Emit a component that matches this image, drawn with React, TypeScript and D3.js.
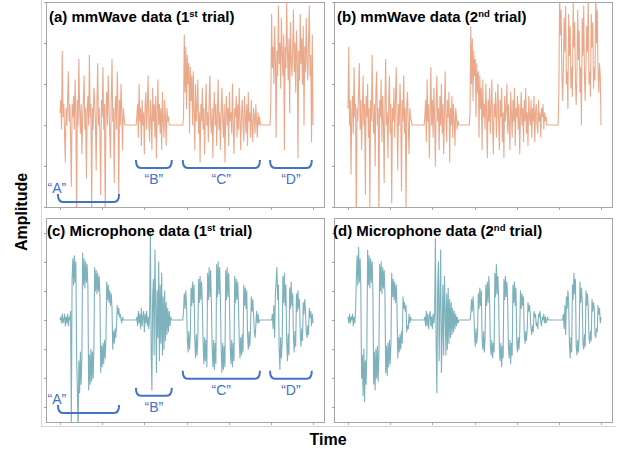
import React from "react";
import * as d3 from "d3";

// ---------------- data (amplitude samples, evenly spaced over the recording) ----------------
const mmWaveTrial1: number[] = [
  // "A"
  3, 6, -1, 18, 2, 5, -2, -9, 4, 0,
  6, 13, 1, 5, -3, -15, 5, 2, 7, -1,
  11, 3, -24, 6, 0, 16, 4, -2, 5, -7,
  2, 6, 12, -1, 4, -13, 3, 7, 0, 17,
  2, 5, -20, 4, -1, 9, 6, 1, -11, 5,
  15, 0, 4, -3, -17, 6, 2, 14, -1, 5,
  -22, 3, 8, 0, 12, 5, -2, -8, 6, 16,
  1, 4, -14, 3, 7, -1, 13, 4, -18, 6,
  0, 10, 3, -6, 4, 2,
  0, 0, 0, 0, 0, 0, 0, 0, 0, 0, 0, 0, 0, 0, 0, 0,
  // "B"
  2, 5, -3, 10, 1, 4, -5, 6, 0, 3,
  -7, 5, 8, -1, 4, 12, 0, -4, 6, 2,
  -6, 9, 1, 5, -3, 7, -8, 3, 11, 0,
  5, -2, 4, -6, 8, 1, -3, 6, 2, -5,
  4, 1, 2, 0,
  0, 0, 0, 0, 0, 0, 0, 0, 0, 0, 0, 0, 0, 0, 0, 0, 0, 0,
  // "C"
  2, 22, 8, 19, 4, 17, 10, 15, -2, 14,
  6, 12, 0, 13, 3, -6, 10, 1, 4, 11,
  -2, 3, -9, 5, 1, 9, -1, 4, -7, 2,
  10, 0, 3, -4, 6, 12, 1, -2, 4, -8,
  3, 8, 0, 5, -5, 2, 11, -1, 3, -6,
  4, 9, 1, -3, 5, -9, 2, 7, 0, 4,
  -5, 8, 1, 3, -2, 10, 0, -7, 4, 2,
  7, -3, 5, -1, 9, 1, -6, 3, 6, 0,
  -4, 7, 2, -2, 5, -5, 8, 1, 3, -3,
  6, 0, -4, 4, 2, -2, 5, 1, -3, 3,
  0, 2,
  0, 0, 0, 0, 0, 0, 0, 0, 0, 0, 0, 0, 0, 0,
  // "D"
  6, 27, 14, 19, 10, 24, 16, -3, 18, 12,
  29, 15, 20, 9, 26, 17, 12, 22, -6, 19,
  14, 30, 18, 11, 21, 3, 25, 16, 12, 19,
  28, 13, 20, 8, 23, 17, -8, 18, 11, 27,
  15, 21, 10, 24, 0, 19, 13, 26, 16, 11,
  20, 29, 12, 17, -4, 22, 0,
];

const mmWaveTrial2: number[] = [
  4, 19, 0, 6, -12, 3, 7, -2, 14, 2,
  5, -24, 4, 1, 8, 15, -1, 6, -6, 3,
  12, 0, 5, -17, 7, 2, 10, -3, 4, -20,
  6, 1, 17, 3, -2, 5, -10, 8, 13, 0,
  4, -22, 6, 2, 11, -4, 7, 1, -14, 5,
  16, 0, 3, -8, 6, 12, -2, 5, -19, 4,
  1, 9, -3, 6, 14, 2, -11, 5, 0, 10,
  3, -16, 6, 1, 12, -2, 4, -21, 5, 8,
  0, -7, 4, 2, 1, 0,
  0, 0, 0, 0, 0, 0, 0, 0, 0, 0, 0, 0, 0, 0, 0, 0,
  2, 6, -4, 11, 1, 5, -8, 3, 14, 0,
  6, -3, 9, 2, -10, 5, 12, 1, 4, -6,
  7, 0, 10, -2, 5, -7, 3, 13, 1, -4,
  6, 2, 8, -9, 4, 0, 7, -3, 5, 1,
  -5, 4, 2, -1, 1, 0,
  0, 0, 0, 0, 0, 0, 0, 0, 0, 0, 0, 0, 0, 0,
  3, 24, 10, 21, 6, 18, 12, 16, 2, 15,
  8, 13, -3, 12, 4, 9, -6, 11, 2, 5,
  -1, 10, 3, -8, 6, 1, 9, -2, 4, 11,
  0, -7, 5, 2, 8, -3, 4, 10, 1, -6,
  6, 2, 9, -4, 3, -8, 7, 1, 4, 10,
  -2, 5, 0, -6, 8, 3, -3, 6, 1, 9,
  -5, 4, 2, 7, -1, 5, -7, 3, 8, 0,
  4, -4, 6, 1, 9, -2, 3, -5, 7, 2,
  0, 6, -3, 4, 1, 7, -4, 3, 5, 0,
  -2, 6, 1, 3, -3, 4, 2, 5, -1, 3,
  1, 2, 0, 0,
  0, 0, 0, 0, 0, 0, 0, 0, 0, 0, 0, 0, 0, 0,
  8, 32, 22, 28,
  12, 6, 14, 26, 18, 29, 10, 13, 4, 27, 17, 24, 9, 14, 7, 30, 19, 25,
  11, 5, 13, 28, 16, 23, 8, 14, 0, 26, 17, 29, 12, 6, 15, 24, 18, 31,
  10, 13, 7, 27, 19, 25, 9, 14, 11, 33, 20, 28, 13, 8, 15, 12, 0,
];

const micTrial1: number[] = [
  0, 1, -1, 2, -1, 0, 2, -2, 1, -1, 2, -2, 1, 0,
  // "A"
  3, -36, 14, 21, 12, 22, 13, 20,
  -12, -24, -38, -14, -25, -11, -22, -13,
  23, 12, 21, 11, 20, 13, 19, 11,
  -24, -12, -22, -10, -21, -11, -20, -9,
  18, 10, 17, 9, 16, 10, 15, 8,
  -18, -9, -16, -8, -15, -7, -13, -6,
  13, 7, 12, 6, 10, 5, 9, 4,
  -10, -4, -8, -3, -6, -2,
  5, 2, 4, 1, 2, 0, -1, 1,
  0, 0, 0, 0, 0, 0, 0, 0, 0, 0, 0, 0, 0, 0, 0, 0, 0, 0,
  // "B"
  1, -2, 3, -1, 2, -3, 4, -2, 1, 3, -4, 2, -1, 3, -2, 1, -3, 2,
  30, -10, -24, 8, 14, -12, 24, 6, -18, 10,
  -6, 20, -14, 12, -8, 16, -12, 8, -10, 10,
  -7, 6, -5, 4, -4, 3, -2, 1,
  0, 0, 0, 0, 0, 0, 0, 0, 0, 0, 0, 0, 0, 0, 0, 0,
  // "C"
  3, 9, 4, 10, 5,
  -6, -11, -4, -10, -5,
  11, 5, 13, 6, 12,
  -7, -13, -5, -12, -6,
  14, 6, 15, 7, 13, 5,
  -8, -15, -6, -14, -7, -16,
  16, 7, 18, 8, 17, 6,
  -9, -16, -7, -17, -8, -15,
  19, 8, 20, 9, 18, 7,
  -10, -18, -8, -17, -9, -16,
  17, 7, 18, 8, 16, 6,
  -9, -15, -7, -16, -8, -14,
  15, 6, 14, 7, 13, 5,
  -7, -13, -6, -12, -5, -11,
  12, 5, 11, 4, 10,
  -5, -10, -4, -9, -3,
  8, 3, 7, 2,
  -4, -6, -2, 3, -1, 2, -1, 0,
  0, 0, 0, 0, 0, 0, 0, 0, 0, 0, 0, 0, 0, 0, 0, 0,
  // "D"
  2, -3, 5, -6,
  9, 13, 18, 7, 12,
  -10, -17, -6, -13, -8,
  15, 6, 16, 5, 12,
  -7, -14, -5, -12,
  11, 4, 13, 5, 9,
  -6, -11, -4, -9,
  9, 3, 10, 4, 7,
  -5, -9, -3, -7,
  6, 2, 7, 3,
  -4, -6, -2, -5,
  4, 1, 3, -2, 2, -1,
];

const micTrial2: number[] = [
  1, -1, 2, -1, 1, 0, 2, -2, 1, -1,
  // "A"
  3, 14, 22, 12, 25, 13, 21, 11,
  -20, -12, -26, -10, -28, -14, -22, -11,
  24, 12, 22, 11, 21, 13, 20, 10,
  -22, -11, -24, -10, -20, -9, -21, -12,
  19, 10, 20, 9, 18, 11, 17, 9,
  -18, -9, -19, -8, -16, -7, -15, -8,
  16, 8, 14, 7, 13, 6, 12, 5,
  -13, -6, -11, -5, -10, -4, -8,
  8, 4, 6, 3, 5,
  -4, -2, -3, 2, -1, 1,
  0, 0, 0, 0, 0, 0, 0, 0, 0, 0, 0, 0, 0, 0, 0, 0, 0, 0,
  // "B"
  1, -2, 3, -2, 2, -3, 1, 3, -2, 1, -3, 2, -1, 2,
  28, -8, -25, 10, 20, -14, 6, 24, -18, -6,
  12, -12, 15, 4, -12, 9, -10, 11, -8, 7,
  -6, 6, -5, 4, -4, 3, -3, 2, -2, 1,
  -1, 0,
  0, 0, 0, 0, 0, 0, 0, 0, 0, 0, 0, 0, 0, 0, 0,
  // "C"
  2, 7, 3, 8, 4,
  -5, -9, -3, -8, -4,
  9, 4, 11, 5, 10,
  -6, -10, -4, -11, -6,
  12, 5, 13, 6, 15, 7,
  -9, -12, -7, -13, -8, -11,
  16, 8, 19, 9, 15, 7,
  -10, -14, -8, -16, -9, -13,
  14, 7, 15, 8, 13, 6,
  -9, -13, -7, -15, -8, -12,
  12, 6, 13, 5, 11,
  -7, -11, -6, -10, -5,
  10, 4, 9, 5, 8,
  -5, -8, -4, -7, -3,
  6, 3, 5, 2,
  -3, -5, -2, -4,
  3, 1, 2, -2, -1, -3, 2, 1, 3, -1, -2, 1, 0, 2, -1, 1, -1, 0, 1,
  0, 0, 0, 0, 0, 0, 0, 0, 0, 0, 0, 0, 0, 0, 0, 0, 0, 0, 0, 0,
  // "D"
  2, -3, 5, -5,
  8, 4, 10, 6,
  -8, -13, -6, -11,
  12, 7, 16, 9, 14,
  -9, -12, -7, -11, -6,
  13, 6, 11, 7,
  -8, -10, -5, -9,
  10, 5, 9, 4,
  -6, -8, -4, -7,
  7, 3, 6, 4,
  -5, -6, -3, -4,
  5, 2, 4, -1, 1,
];

const timeTicks = [0, 1, 2, 3, 4, 5, 6];
const recordingSpan = 6;
const mmWaveAmpTicks = [-20, -10, 0, 10, 20, 30];
const micAmpTicks = [-30, -20, -10, 0, 10, 20, 30];

const wordLabels = ["A", "B", "C", "D"];
const wordStart = [-0.05, 1.8, 2.91, 4.98];
const wordEnd = [1.4, 2.65, 4.74, 5.97];
const mmBracketLevel = [-18.8, -10.5, -10.5, -10.5];
const micBracketLevel = [-31.9, -26, -20.2, -20.2];

// ---------------- styles / layout ----------------
const ORANGE = "#E9A07E";
const TEAL = "#6FA8B5";
const BLUE = "#4472C4";
const FRAME = "#A6A6A6";
const FONT = "'Liberation Sans', Arial, Helvetica, sans-serif";

type PanelProps = {
  id: string;
  x: number;
  y: number;
  w: number;
  h: number;
  data: number[];
  color: string;
  yDomain: [number, number];
  yTicks: number[];
  letter: string;
  kind: string;
  ord: string;
  sup: string;
  titleDx: number;
  titleBaseline: number;
  brackets?: number[];
};

function Panel(p: PanelProps) {
  const xs = d3.scaleLinear().domain([-0.333, 6.26]).range([p.x, p.x + p.w]);
  const ys = d3.scaleLinear().domain(p.yDomain).range([p.y + p.h, p.y]);
  const n = p.data.length;
  const line = d3
    .line<number>()
    .x((_, i) => xs((i * recordingSpan) / (n - 1)))
    .y((d) => ys(d));
  const pathD = line(p.data) || "";

  const bracketEls: React.ReactNode[] = [];
  if (p.brackets) {
    wordLabels.forEach((lab, k) => {
      const x1 = xs(wordStart[k]);
      const x2 = xs(wordEnd[k]);
      const by = ys(p.brackets![k]);
      const hgt = 8;
      const r = 5;
      const d = `M${x1},${by - hgt} Q${x1},${by} ${x1 + r},${by} L${x2 - r},${by} Q${x2},${by} ${x2},${by - hgt}`;
      const lx = k === 0 ? x1 - 1 : (x1 + x2) / 2;
      const ly = k === 0 ? by - 9 : by + 16;
      bracketEls.push(
        <g key={lab}>
          <path d={d} fill="none" stroke={BLUE} strokeWidth={2} />
          <text x={lx} y={ly} textAnchor="middle" fontFamily={FONT} fontSize={14} fill={BLUE}>
            {`\u201C${lab}\u201D`}
          </text>
        </g>
      );
    });
  }

  return (
    <g>
      <defs>
        <clipPath id={p.id}>
          <rect x={p.x} y={p.y} width={p.w} height={p.h} />
        </clipPath>
      </defs>
      <rect x={p.x + 0.5} y={p.y + 0.5} width={p.w} height={p.h} fill="white" stroke={FRAME} strokeWidth={1} />
      {timeTicks.map((t) => (
        <line
          key={"xt" + t}
          x1={Math.round(xs(t)) + 0.5}
          x2={Math.round(xs(t)) + 0.5}
          y1={p.y + p.h}
          y2={p.y + p.h + 3}
          stroke={FRAME}
        />
      ))}
      {p.yTicks.map((v) => (
        <line
          key={"yt" + v}
          x1={p.x - 2}
          x2={p.x}
          y1={Math.round(ys(v)) + 0.5}
          y2={Math.round(ys(v)) + 0.5}
          stroke={FRAME}
        />
      ))}
      <g clipPath={`url(#${p.id})`}>
        <path d={pathD} fill="none" stroke={p.color} strokeWidth={1.1} strokeOpacity={0.9} strokeLinejoin="round" />
      </g>
      {bracketEls}
      <text
        x={p.x + p.titleDx}
        y={p.titleBaseline}
        fontFamily={FONT}
        fontWeight="bold"
        fontSize={15}
        fill="#000"
      >
        {`(${p.letter}) ${p.kind} data (${p.ord}`}
        <tspan dy={-5} fontSize={9.5}>
          {p.sup}
        </tspan>
        <tspan dy={5}>{" trial)"}</tspan>
      </text>
    </g>
  );
}

export default function App() {
  return (
    <svg
      width={620}
      height={451}
      viewBox="0 0 620 451"
      style={{ position: "absolute", left: 0, top: 0, background: "white" }}
    >
      <rect x={0} y={0} width={620} height={451} fill="white" />
      <line x1={41.5} x2={41.5} y1={0} y2={426} stroke="#D6D6D6" />
      <line x1={41} x2={616} y1={426.5} y2={426.5} stroke="#D6D6D6" />

      <Panel id="pa" x={46} y={2} w={278} h={205} data={mmWaveTrial1} color={ORANGE}
        yDomain={[-20, 30]} yTicks={mmWaveAmpTicks} letter="a" kind="mmWave" ord="1" sup="st"
        titleDx={3} titleBaseline={22} brackets={mmBracketLevel} />
      <Panel id="pb" x={334} y={2} w={278} h={205} data={mmWaveTrial2} color={ORANGE}
        yDomain={[-20, 30]} yTicks={mmWaveAmpTicks} letter="b" kind="mmWave" ord="2" sup="nd"
        titleDx={3} titleBaseline={22} />
      <Panel id="pc" x={46} y={218} w={278} h={204} data={micTrial1} color={TEAL}
        yDomain={[-35, 35]} yTicks={micAmpTicks} letter="c" kind="Microphone" ord="1" sup="st"
        titleDx={1} titleBaseline={236} brackets={micBracketLevel} />
      <Panel id="pd" x={334} y={218} w={278} h={204} data={micTrial2} color={TEAL}
        yDomain={[-35, 35]} yTicks={micAmpTicks} letter="d" kind="Microphone" ord="2" sup="nd"
        titleDx={-1} titleBaseline={236} />

      <text transform="translate(27,212) rotate(-90)" textAnchor="middle" fontFamily={FONT}
        fontWeight="bold" fontSize={16} fill="#000">
        Amplitude
      </text>
      <text x={328} y={445} textAnchor="middle" fontFamily={FONT} fontWeight="bold" fontSize={16} fill="#000">
        Time
      </text>
    </svg>
  );
}
